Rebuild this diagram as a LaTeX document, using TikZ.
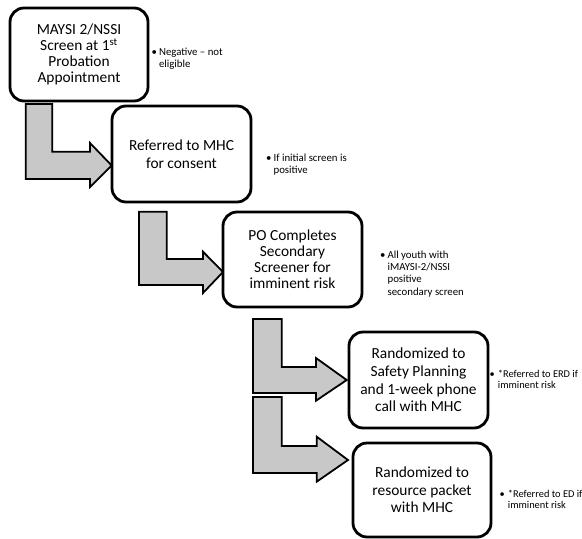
\documentclass[tikz,border=0pt]{standalone}
\usepackage{fontspec}
\setmainfont{Carlito}
\begin{document}
\begin{tikzpicture}[x=1pt,y=-1pt,
  box/.style={draw=black, line width=2.8pt, rounded corners=14pt, fill=white,
    align=center, inner sep=0pt, font=\fontsize{15.4}{16.5}\selectfont},
  bent/.style={draw=black, line width=1.8pt, fill=arrowgray, line join=miter},
  note/.style={anchor=base west, inner sep=0pt, font=\fontsize{10.8}{12.2}\selectfont},
  smallnote/.style={anchor=base west, inner sep=0pt, font=\fontsize{10.4}{11.3}\selectfont}]
\definecolor{arrowgray}{RGB}{200,200,200}
\useasboundingbox (0,0) rectangle (582,539);

% bent arrows
\draw[bent] (25.7,104) -- (52.3,104) -- (52.3,151.7) -- (90,151.7) -- (90,143) -- (111.7,165.5) -- (90,187) -- (90,179) -- (25.7,179) -- cycle;
\draw[bent] (139,211.7) -- (166.7,211.7) -- (166.7,259) -- (203,259) -- (203,251.7) -- (223,272) -- (203,293) -- (203,285) -- (139,285) -- cycle;
\draw[bent] (253,319) -- (281.7,319) -- (281.7,367) -- (316,367) -- (316,358) -- (346.7,380) -- (316,400.7) -- (316,393) -- (253,393) -- cycle;
\draw[bent] (253,397) -- (281.7,397) -- (281.7,446) -- (316.7,446) -- (316.7,436.7) -- (348,460) -- (316.7,481.7) -- (316.7,473) -- (253,473) -- cycle;

% boxes
\node[box, minimum width=138pt, minimum height=93pt, font=\fontsize{15.4}{15.8}\selectfont] (b1) at (79,54.5)
  {MAYSI 2/NSSI\\Screen at 1\textsuperscript{st}\\Probation\\Appointment};
\node[box, minimum width=139pt, minimum height=96pt, font=\fontsize{15.4}{18.5}\selectfont] (b2) at (181.5,154)
  {Referred to MHC\\for consent};
\node[box, minimum width=139pt, minimum height=95pt, font=\fontsize{15.4}{16}\selectfont] (b3) at (292.5,259.5)
  {PO Completes\\Secondary\\Screener for\\imminent risk};
\node[box, minimum width=139pt, minimum height=96pt, font=\fontsize{15.4}{17.7}\selectfont] (b4) at (418.5,380)
  {Randomized to\\Safety Planning\\and 1-week phone\\call with MHC};
\node[box, minimum width=138pt, minimum height=94pt, font=\fontsize{15.4}{17.7}\selectfont] (b5) at (422,490)
  {Randomized to\\resource packet\\with MHC};

% notes
\node[note] (n1) at (151.5,55.5)
  {\begin{tabular}[t]{@{}l@{\hspace{2pt}}l@{}}•&Negative – not\\&eligible\end{tabular}};
\node[note] (n2) at (266,161.5)
  {\begin{tabular}[t]{@{}l@{\hspace{2pt}}l@{}}•&If initial screen is\\&positive\end{tabular}};
\node[note] (n3) at (380,258.5)
  {\begin{tabular}[t]{@{}l@{\hspace{2pt}}l@{}}•&All youth with\\&iMAYSI-2/NSSI\\&positive\\&secondary screen\end{tabular}};
\node[smallnote] (n4) at (489.5,377)
  {\begin{tabular}[t]{@{}l@{\hspace{3pt}}l@{}}•&*Referred to ERD if\\&imminent risk\end{tabular}};
\node[smallnote] (n5) at (499.5,497)
  {\begin{tabular}[t]{@{}l@{\hspace{3pt}}l@{}}•&*Referred to ED if\\&imminent risk\end{tabular}};
\end{tikzpicture}
\end{document}
